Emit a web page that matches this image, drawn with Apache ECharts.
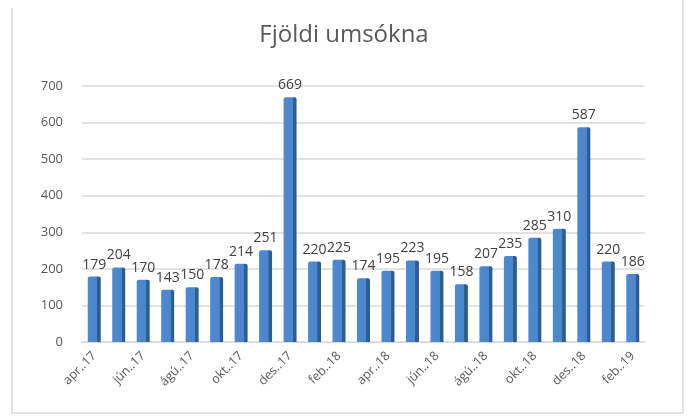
<!DOCTYPE html>
<html><head><meta charset="utf-8">
<script src="https://cdn.jsdelivr.net/npm/echarts@6/dist/echarts.min.js"></script>
<style>html,body{margin:0;padding:0;background:#fff}#c{width:688px;height:416px}</style>
</head><body><div id="c"></div>
<script>
const categories = ["apr..17","maí..17","jún..17","júl..17","ágú..17","sep..17","okt..17","nóv..17","des..17","jan..18","feb..18","mar..18","apr..18","maí..18","jún..18","júl..18","ágú..18","sep..18","okt..18","nóv..18","des..18","jan..19","feb..19"];
const values = [179,204,170,143,150,178,214,251,669,220,225,174,195,223,195,158,207,235,285,310,587,220,186];
const yTicks = [0,100,200,300,400,500,600,700];
const titleText = "Fjöldi umsókna";

const chart = echarts.init(document.getElementById('c'), null, {renderer:'canvas'});
const font2 = "'Open Sans',sans-serif";
chart.setOption({
  animation:false,
  title:{text:titleText,left:'center',top:18,textStyle:{fontFamily:font2,fontSize:24,fontWeight:'normal',color:'#595959'}},
  grid:{left:82,right:43,top:86,bottom:74,containLabel:false},
  xAxis:{type:'category',data:categories,
    axisLine:{show:true,lineStyle:{color:'#d9d9d9'}},axisTick:{show:false},
    axisLabel:{interval:1,rotate:45,margin:12,color:'#595959',fontFamily:font2,fontSize:12.5}},
  yAxis:{type:'value',min:yTicks[0],max:yTicks[yTicks.length-1],interval:100,
    axisLine:{show:false},axisTick:{show:false},
    axisLabel:{margin:19,color:'#595959',fontFamily:font2,fontSize:13}},
  series:[{type:'bar',data:values,barWidth:'53%',
    itemStyle:{color:new echarts.graphic.LinearGradient(0,0,1,0,[
      {offset:0,color:'#4f8ad0'},{offset:0.72,color:'#4a86cc'},{offset:0.73,color:'#2f5f97'},{offset:1,color:'#2c5a8f'}]),
      borderRadius:[2,2,0,0]},
    label:{show:true,position:'top',distance:5,color:'#404040',fontFamily:font2,fontSize:14}}],
  graphic:[{type:'polyline',shape:{points:[[12,8],[12,413],[683,413],[683,0]]},style:{stroke:'#d9d9d9',fill:null,lineWidth:1.5},silent:true}]
});
chart.setOption({yAxis:{splitLine:{lineStyle:{color:'#d9d9d9',width:1.5}}}});
</script></body></html>
